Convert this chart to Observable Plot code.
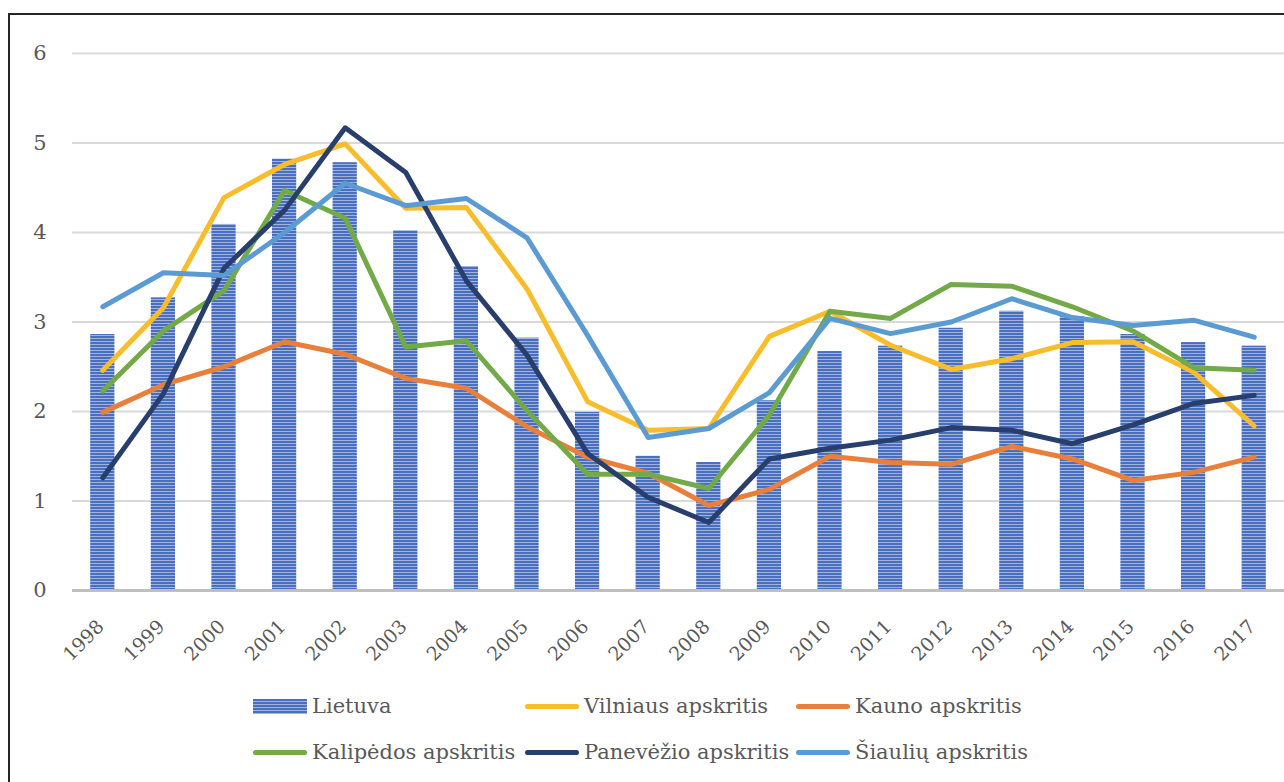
<!DOCTYPE html>
<html>
<head>
<meta charset="utf-8">
<script src="https://cdn.jsdelivr.net/npm/d3@7"></script>
<script src="https://cdn.jsdelivr.net/npm/@observablehq/plot@0.6"></script>
<style>
  html, body { margin: 0; padding: 0; background: #fff; }
  #wrap { position: relative; width: 1284px; height: 782px; overflow: hidden; font-family: "DejaVu Serif", serif; }
  #frame { position: absolute; left: 8px; top: 13px; width: 1400px; height: 900px; border-left: 2px solid #262626; border-top: 2px solid #262626; }
  #chart { position: absolute; left: 0; top: 0; }
  #chart svg text { font-family: "DejaVu Serif", serif !important; font-size: 21px !important; fill: #595959; }
  #chart svg g.xax text { font-size: 19px !important; }
  .leg { position: absolute; display: flex; align-items: center; font-size: 21px; color: #595959; white-space: nowrap; }
  .sw-line { width: 54px; height: 5px; border-radius: 3px; margin-right: 5px; }
  .sw-bar { width: 54px; height: 15px; margin-right: 5px;
    background: repeating-linear-gradient(to bottom, #4a6fbf 0px, #4a6fbf 2px, #9fb3de 2px, #9fb3de 3px); }
</style>
</head>
<body>
<div id="wrap">
  <div id="frame"></div>
  <div id="chart"></div>
</div>
<script>
const years = [1998,1999,2000,2001,2002,2003,2004,2005,2006,2007,2008,2009,2010,2011,2012,2013,2014,2015,2016,2017];
const lietuva   = [2.86,3.27,4.09,4.82,4.78,4.02,3.62,2.82,1.99,1.50,1.43,2.12,2.67,2.73,2.93,3.12,3.06,2.86,2.77,2.73];
const vilniaus  = [2.46,3.16,4.39,4.76,4.99,4.27,4.28,3.37,2.11,1.79,1.81,2.84,3.12,2.74,2.47,2.59,2.77,2.78,2.44,1.84];
const kauno     = [1.99,2.30,2.50,2.78,2.64,2.37,2.26,1.83,1.49,1.31,0.95,1.13,1.50,1.43,1.41,1.61,1.47,1.23,1.32,1.49];
const klaipedos = [2.23,2.90,3.35,4.47,4.16,2.72,2.79,2.01,1.30,1.30,1.14,1.96,3.12,3.04,3.42,3.40,3.17,2.90,2.49,2.46];
const panevezio = [1.26,2.20,3.60,4.25,5.17,4.67,3.46,2.63,1.53,1.04,0.76,1.47,1.59,1.68,1.82,1.79,1.64,1.85,2.09,2.18];
const siauliu   = [3.17,3.55,3.52,4.00,4.55,4.30,4.38,3.94,2.85,1.71,1.81,2.21,3.04,2.87,3.00,3.26,3.05,2.96,3.02,2.83];

const seriesNames = ["Lietuva","Vilniaus apskritis","Kauno apskritis","Kalipėdos apskritis","Panevėžio apskritis","Šiaulių apskritis"];
const seriesColors = ["#4a6fbf","#f9bd2b","#e8803c","#72aa47","#283f6e","#5b9bd3"];
const yTicks = [0,1,2,3,4,5,6];
const lineSeries = [vilniaus, kauno, klaipedos, panevezio, siauliu];

const barData = years.map((y, i) => ({year: y, value: lietuva[i]}));
const lineData = lineSeries.map((vals, s) => years.map((y, i) => ({year: y, value: vals[i], s})));

const textColor = "#595959";

const plot = Plot.plot({
  width: 1284,
  height: 680,
  marginLeft: 72,
  marginRight: 0,
  marginTop: 53,
  marginBottom: 90,
  x: {type: "linear", domain: [1997.5, 2017.5]},
  y: {domain: [0, 6]},
  marks: [
    Plot.gridY({ticks: yTicks.slice(1), stroke: "#d9d9d9", strokeOpacity: 1, strokeWidth: 2}),
    Plot.rectY(barData, {x1: d => d.year - 0.2, x2: d => d.year + 0.2, y: "value", fill: "url(#stripes)"}),
    Plot.ruleY([0], {stroke: "#bfbfbf", strokeWidth: 3}),
    ...lineData.map((rows, s) => Plot.line(rows, {x: "year", y: "value", stroke: seriesColors[s + 1], strokeWidth: 5, strokeLinejoin: "round", strokeLinecap: "round"})),
    Plot.axisY({ticks: yTicks, tickFormat: d => String(d), tickSize: 0, tickPadding: 26, color: textColor, label: null}),
    Plot.axisX({ticks: years, tickFormat: d => String(d), tickRotate: -45, tickSize: 0, tickPadding: 33, dx: -2, color: textColor, label: null, className: "xax"})
  ]
});

const svg = d3.select(plot);
const defs = svg.insert("defs", ":first-child");
const pat = defs.append("pattern").attr("id", "stripes").attr("patternUnits", "userSpaceOnUse").attr("width", 10).attr("height", 3);
pat.append("rect").attr("width", 10).attr("height", 3).attr("fill", "#9fb3de");
pat.append("rect").attr("width", 10).attr("height", 2).attr("fill", "#4a6fbf");

document.getElementById("chart").appendChild(plot);

// legend
const wrap = document.getElementById("wrap");
const cols = [253, 525, 796];
const rows = [706, 752];
seriesNames.forEach((name, i) => {
  const el = document.createElement("div");
  el.className = "leg";
  el.style.left = cols[i % 3] + "px";
  el.style.top = (rows[Math.floor(i / 3)] - 14) + "px";
  el.style.height = "28px";
  const sw = document.createElement("span");
  if (i === 0) { sw.className = "sw-bar"; }
  else { sw.className = "sw-line"; sw.style.background = seriesColors[i]; }
  el.appendChild(sw);
  const t = document.createElement("span");
  t.textContent = name;
  el.appendChild(t);
  wrap.appendChild(el);
});
</script>
</body>
</html>
